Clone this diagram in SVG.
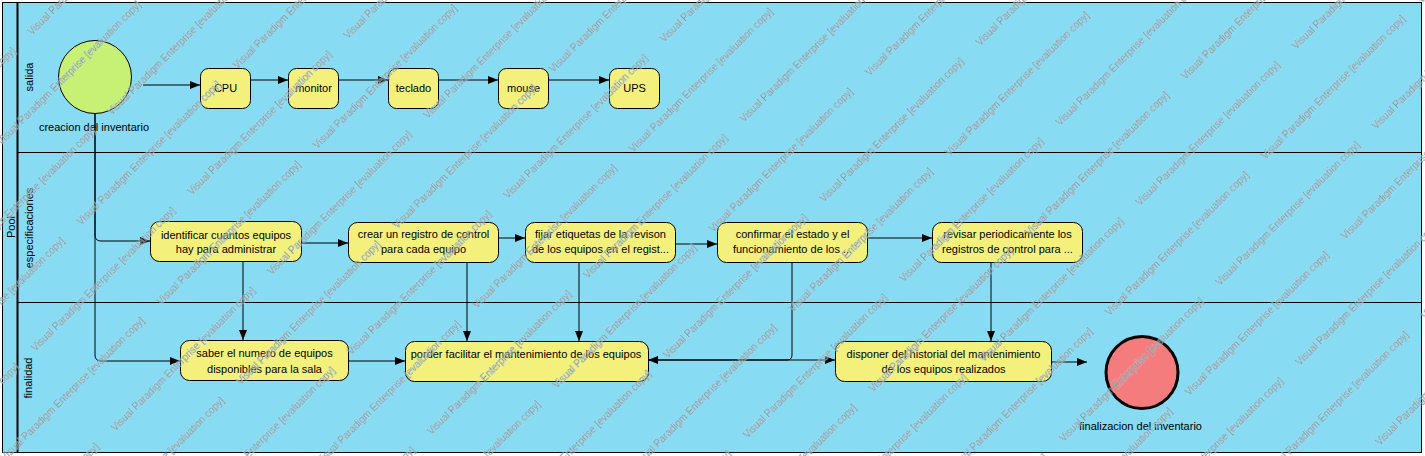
<svg xmlns="http://www.w3.org/2000/svg" width="1425" height="456" viewBox="0 0 1425 456">
<style>
text{font-family:"Liberation Sans",Arial,sans-serif;font-size:11px;fill:#000}
.lane{fill:#87dbf3}
.bd{fill:none;stroke:#000;stroke-width:1}
.act{fill:#f3f17b;stroke:#000;stroke-width:1}
.c{text-anchor:middle}
.conn path{fill:none;stroke:#000;stroke-width:1;marker-end:url(#arr)}
.wm{font-size:10px;fill:#8a949a;stroke:#cfeef8;stroke-width:0.8;paint-order:stroke;stroke-opacity:0.45}
</style>
<defs>
<marker id="arr" markerUnits="userSpaceOnUse" viewBox="0 0 10 8" refX="10" refY="4" markerWidth="10" markerHeight="8" orient="auto">
<path d="M0,0 L10,4 L0,8 z" fill="#000"/>
</marker>
<pattern id="wmp" patternUnits="userSpaceOnUse" x="118.7" y="92" width="221" height="113" patternTransform="rotate(-45)">
<text class="wm" x="0" y="12">Visual Paradigm Enterprise [evaluation copy]</text>
<text class="wm" x="99.4" y="68.5">Visual Paradigm Enterprise [evaluation copy]</text>
<text class="wm" x="-121.6" y="68.5">Visual Paradigm Enterprise [evaluation copy]</text>
</pattern>
</defs>
<rect width="1425" height="456" fill="#fff"/>
<g id="pool">
<rect class="lane" x="2.5" y="2.5" width="1419" height="450"/>
<rect class="bd" x="2.5" y="2.5" width="1419" height="450"/>
<line x1="17.5" y1="2.5" x2="17.5" y2="452.5" stroke="#000" stroke-width="2"/>
<text class="c" transform="translate(15,227) rotate(-90)">Pool</text>
</g>
<g id="lane-salida">
<text class="c" transform="translate(33,77) rotate(-90)">salida</text>
</g>
<g id="lane-especificaciones">
<line x1="17.5" y1="152.5" x2="1421.5" y2="152.5" stroke="#000"/>
<text class="c" transform="translate(33,228) rotate(-90)">especificaciones</text>
</g>
<g id="lane-finalidad">
<line x1="17.5" y1="302.5" x2="1421.5" y2="302.5" stroke="#000"/>
<text class="c" transform="translate(32,378) rotate(-90)">finalidad</text>
</g>
<g class="conn" id="connectors">
<path d="M143,85 L200,85"/>
<path d="M250,80 L288,80"/>
<path d="M339,80 L388,80"/>
<path d="M439,80 L498,80"/>
<path d="M548,80 L609,80"/>
<path d="M95,113 L95,235 Q95,241 101,241 L150,241"/>
<path d="M95,113 L95,355 Q95,361 101,361 L180,361"/>
<path d="M302,243 L348,243"/>
<path d="M498,238 L525,238"/>
<path d="M675,244 L717,244"/>
<path d="M867,238 L932,238"/>
<path d="M243,261 L243,340"/>
<path d="M467,262 L467,341"/>
<path d="M579,262 L579,341"/>
<path d="M792,262 L792,355 Q792,360 787,360 L648,360"/>
<path d="M991,262 L991,341"/>
<path d="M348,361 L405,361"/>
<path d="M648,360 L835,360"/>
<path d="M1051,362 L1087,362"/>
</g>
<g id="start">
<circle cx="95" cy="77" r="36.5" fill="#c6f175" stroke="#000" stroke-width="1"/>
<text class="c" x="94" y="131">creacion del inventario</text>
</g>
<g id="cpu">
<rect class="act" x="200.5" y="68.5" width="50" height="40" rx="8"/>
<text class="c" x="225.5" y="92">CPU</text>
</g>
<g id="monitor">
<rect class="act" x="288.5" y="68.5" width="50" height="40" rx="8"/>
<text class="c" x="313.5" y="92">monitor</text>
</g>
<g id="teclado">
<rect class="act" x="388.5" y="68.5" width="50" height="40" rx="8"/>
<text class="c" x="413.5" y="92">teclado</text>
</g>
<g id="mouse">
<rect class="act" x="498.5" y="68.5" width="50" height="40" rx="8"/>
<text class="c" x="523.5" y="92">mouse</text>
</g>
<g id="ups">
<rect class="act" x="609.5" y="68.5" width="50" height="40" rx="8"/>
<text class="c" x="634.5" y="92">UPS</text>
</g>
<g id="identificar">
<rect class="act" x="150.5" y="221.5" width="151" height="40" rx="9"/>
<text class="c" x="226" y="239">identificar cuantos equipos</text>
<text class="c" x="226" y="253">hay para administrar</text>
</g>
<g id="crear">
<rect class="act" x="348.5" y="222.5" width="150" height="40" rx="9"/>
<text class="c" x="423.5" y="238">crear un registro de control</text>
<text class="c" x="423.5" y="253">para cada equipo</text>
</g>
<g id="fijar">
<rect class="act" x="525.5" y="222.5" width="150" height="40" rx="9"/>
<text class="c" x="600.5" y="238">fijar etiquetas de la revison</text>
<text class="c" x="600.5" y="253">de los equipos en el regist...</text>
</g>
<g id="confirmar">
<rect class="act" x="717.5" y="222.5" width="150" height="40" rx="9"/>
<text class="c" x="792.5" y="238">confirmar el estado y el</text>
<text class="c" x="792.5" y="253">funcionamiento de los ...</text>
</g>
<g id="revisar">
<rect class="act" x="932.5" y="222.5" width="150" height="40" rx="9"/>
<text class="c" x="1007.5" y="238">revisar periodicamente los</text>
<text class="c" x="1007.5" y="253">registros de control para ...</text>
</g>
<g id="saber">
<rect class="act" x="180.5" y="340.5" width="168" height="40" rx="9"/>
<text class="c" x="264.5" y="357">saber el numero de equipos</text>
<text class="c" x="264.5" y="373">disponibles para la sala</text>
</g>
<g id="porder">
<rect class="act" x="405.5" y="341.5" width="243" height="40" rx="9"/>
<text class="c" x="526" y="358">porder facilitar el mantenimiento de los equipos</text>
</g>
<g id="disponer">
<rect class="act" x="835.5" y="341.5" width="216" height="40" rx="9"/>
<text class="c" x="943.5" y="358">disponer del historial del mantenimiento</text>
<text class="c" x="943.5" y="373">de los equipos realizados</text>
</g>
<g id="end">
<circle cx="1142" cy="372.5" r="36" fill="#f47c7c" stroke="#000" stroke-width="3"/>
<text class="c" x="1140.5" y="430">finalizacion del inventario</text>
</g>
<rect id="watermark" x="0" y="0" width="1425" height="456" fill="url(#wmp)"/>
</svg>
